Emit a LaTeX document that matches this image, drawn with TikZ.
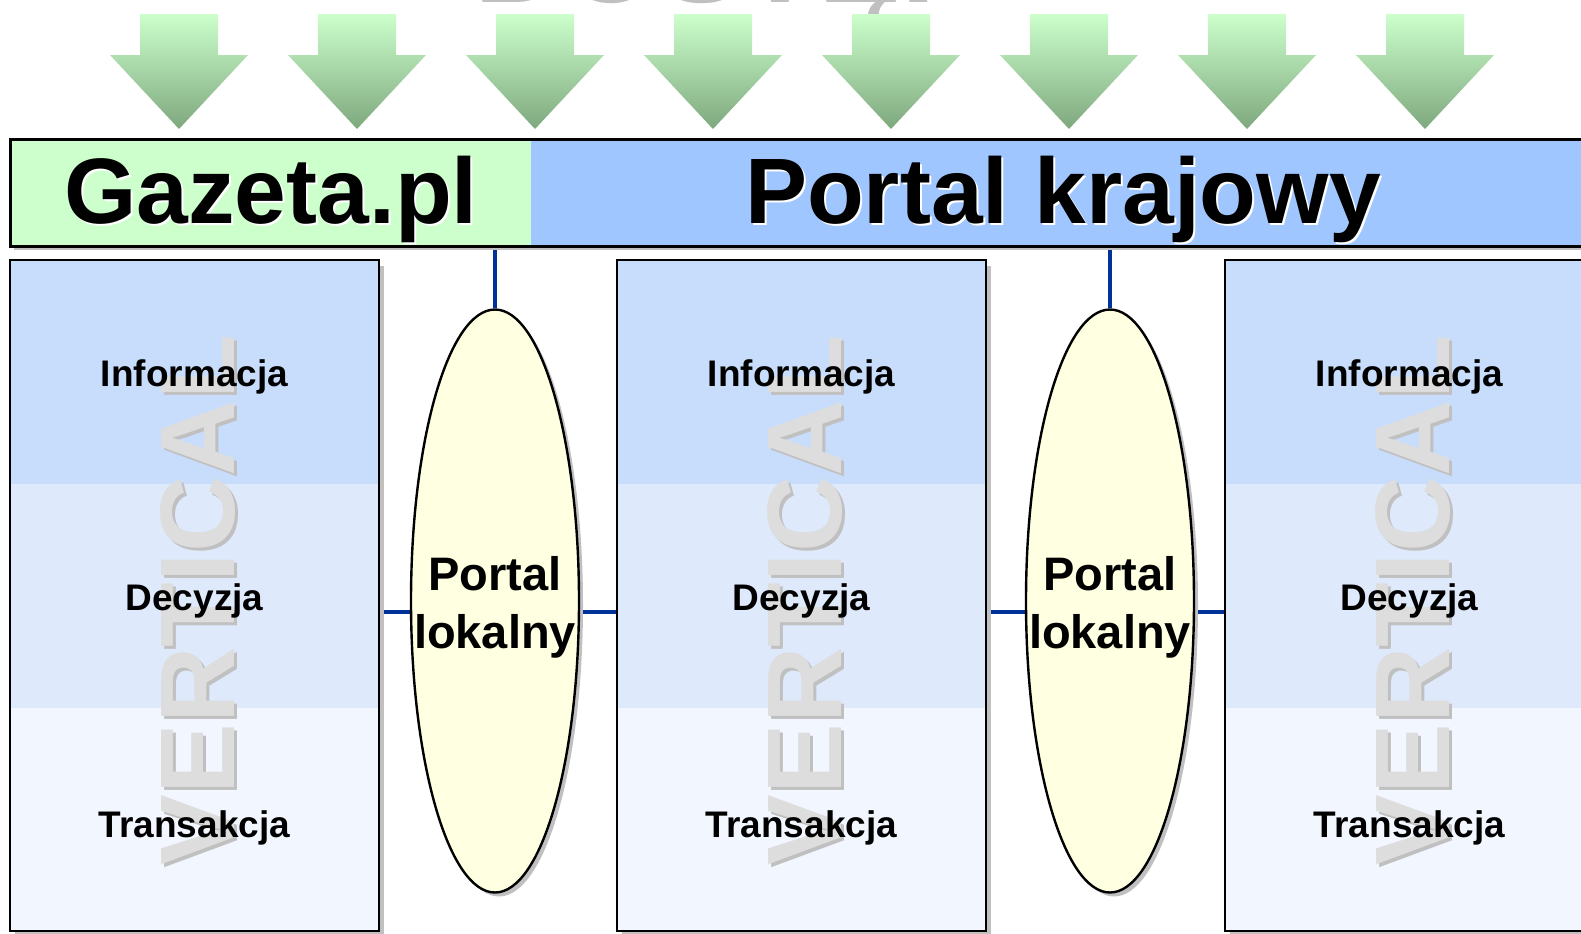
\documentclass[tikz,border=0pt]{standalone}
\usepackage{fontspec}
\setmainfont{Liberation Sans}
\usetikzlibrary{shapes.geometric,shadows,backgrounds}

\definecolor{gazgreen}{RGB}{204,255,204}
\definecolor{kraj}{RGB}{160,198,255}
\definecolor{bandA}{RGB}{200,221,252}
\definecolor{bandB}{RGB}{222,234,252}
\definecolor{bandC}{RGB}{242,247,255}
\definecolor{lokal}{RGB}{255,255,225}
\definecolor{linkblue}{RGB}{0,51,153}
\definecolor{arrtop}{RGB}{204,255,204}
\definecolor{arrbot}{RGB}{126,168,126}
\definecolor{shade}{RGB}{192,192,192}
\definecolor{wmgrey}{RGB}{221,221,221}

\begin{document}
\begin{tikzpicture}[x=0.5pt,y=-0.5pt]
        \tikzstyle{downarrow}=[top color=arrtop, bottom color=arrbot]
        \tikzstyle{bar}=[inner sep=0pt, minimum width=795pt, minimum height=53.5pt, anchor=north west,
            drop shadow={shadow xshift=2pt, shadow yshift=-2pt, fill=shade, opacity=1}]
        \tikzstyle{bigtitle}=[font=\bfseries\fontsize{46.5}{46.5}\selectfont, anchor=base, inner sep=0pt]
        \tikzstyle{vbox}=[draw, line width=1.2pt, fill=bandC, inner sep=0pt,
            minimum width=184.5pt, minimum height=335.5pt,
            drop shadow={shadow xshift=2.5pt, shadow yshift=-3pt, fill=shade, opacity=1},
            path picture={
                \fill[bandA] (path picture bounding box.north west) rectangle ([yshift=-112pt]path picture bounding box.north east);
                \fill[bandB] ([yshift=-112pt]path picture bounding box.north west) rectangle ([yshift=-224pt]path picture bounding box.north east);
            }]
        \tikzstyle{wmark}=[rotate=90, font=\bfseries\fontsize{53}{53}\selectfont, inner sep=0pt]
        \tikzstyle{lbl}=[font=\bfseries\fontsize{18.5}{18.5}\selectfont, anchor=base, inner sep=0pt]
        \tikzstyle{lokalny}=[ellipse, draw, line width=1.2pt, fill=lokal, inner sep=0pt,
            minimum width=84pt, minimum height=291.5pt,
            drop shadow={shadow xshift=2pt, shadow yshift=-2pt, fill=shade, opacity=1}]
        \tikzstyle{ltxt}=[font=\bfseries\fontsize{23.5}{29}\selectfont, align=center, inner sep=0pt]
        \tikzstyle{link}=[draw=linkblue, line width=2pt]

        \useasboundingbox (0,0) rectangle (1581,933);
        \clip (0,0) rectangle (1581,933);

        % word cut by the top edge
        \node[anchor=base, text=shade, font=\bfseries\fontsize{62}{62}\selectfont, inner sep=0pt] (dostep) at (729,2) {DOSTĘP};

        % arrows
        \foreach \x in {179,357,535,713,891,1069,1247,1425}
            \shade[downarrow] (\x-39,14) -- (\x+39,14) -- (\x+39,55) -- (\x+69,55) -- (\x,129) -- (\x-69,55) -- (\x-39,55) -- cycle;

        % top bar
        \node[bar, fill=kraj] (bar) at (10,139) {};
        \fill[gazgreen] (bar.north west) rectangle (531,246);
        \draw[line width=1.5pt] (bar.north west) rectangle (bar.south east);
        \node[bigtitle, text=white] at (273,225) {Gazeta.pl};
        \node[bigtitle] (gazeta) at (271,223) {Gazeta.pl};
        \node[bigtitle, text=white] at (1065,225) {Portal krajowy};
        \node[bigtitle] (krajowy) at (1063,223) {Portal krajowy};

        % columns
        \node[vbox] (kol1) at (194.5,595.5) {};
        \node[vbox] (kol2) at (801.5,595.5) {};
        \node[vbox] (kol3) at (1409.5,595.5) {};

        \node[wmark, text=shade] at (201,603) {VERTICAL};
        \node[wmark, text=wmgrey] (vert1) at (198,600) {VERTICAL};
        \node[wmark, text=shade] at (808,603) {VERTICAL};
        \node[wmark, text=wmgrey] (vert2) at (805,600) {VERTICAL};
        \node[wmark, text=shade] at (1416,603) {VERTICAL};
        \node[wmark, text=wmgrey] (vert3) at (1413,600) {VERTICAL};

        \node[lbl] (info1)  at (194.5,386) {Informacja};
        \node[lbl] (dec1)   at (194.5,610) {Decyzja};
        \node[lbl] (trans1) at (194.5,837) {Transakcja};

        \node[lbl] (info2)  at (801.5,386) {Informacja};
        \node[lbl] (dec2)   at (801.5,610) {Decyzja};
        \node[lbl] (trans2) at (801.5,837) {Transakcja};

        \node[lbl] (info3)  at (1409.5,386) {Informacja};
        \node[lbl] (dec3)   at (1409.5,610) {Decyzja};
        \node[lbl] (trans3) at (1409.5,837) {Transakcja};

        % local portals
        \node[lokalny] (pl1) at (495,601) {};
        \node[ltxt] (pl1txt) at (495,607) {Portal\\lokalny};
        \node[lokalny] (pl2) at (1110,601) {};
        \node[ltxt] (pl2txt) at (1110,607) {Portal\\lokalny};

        \coordinate (mid) at (0,612);
        \begin{pgfonlayer}{background}
            \path[link] (bar.south -| pl1.north) -- (pl1.north);
            \path[link] (bar.south -| pl2.north) -- (pl2.north);

            \path[link] (kol1.east |- mid) -- (pl1.center |- mid);
            \path[link] (pl1.center |- mid) -- (kol2.west |- mid);
            \path[link] (kol2.east |- mid) -- (pl2.center |- mid);
            \path[link] (pl2.center |- mid) -- (kol3.west |- mid);
        \end{pgfonlayer}
    \end{tikzpicture}
\end{document}
